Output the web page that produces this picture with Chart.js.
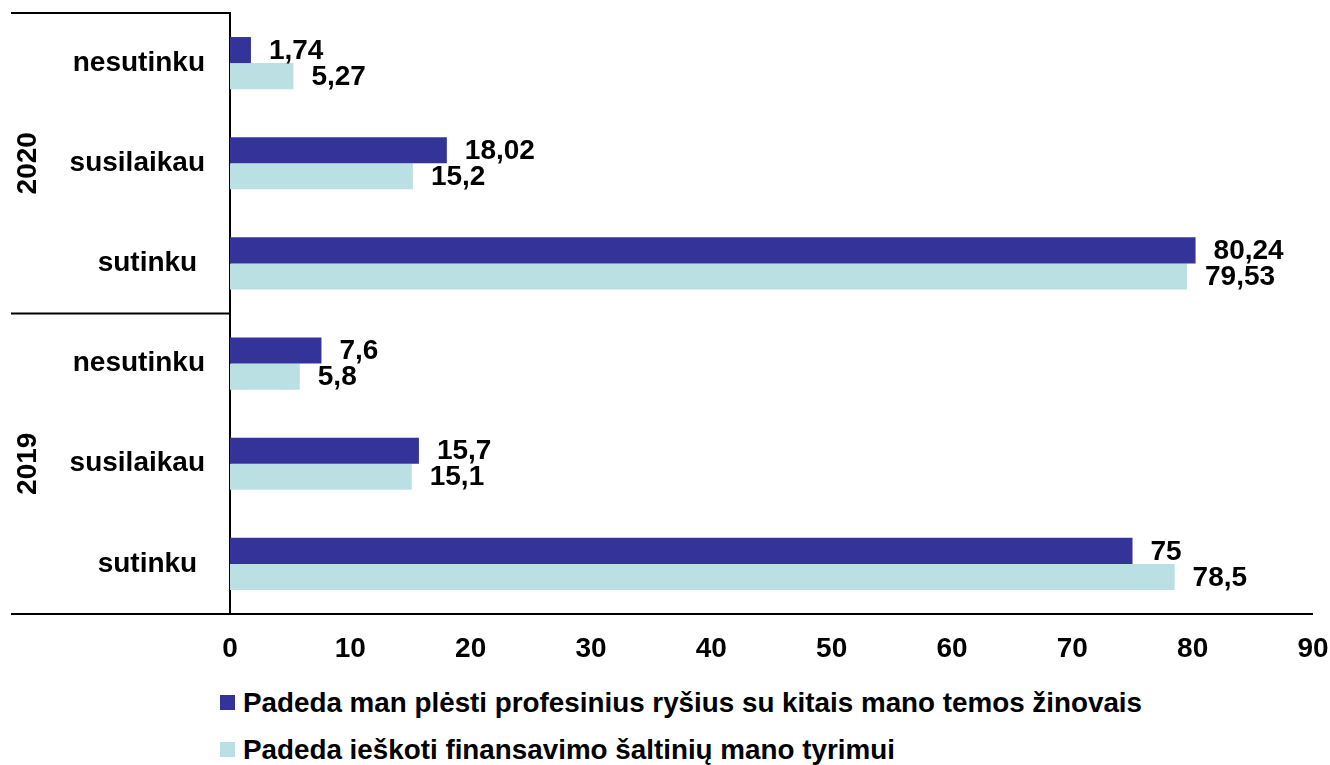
<!DOCTYPE html>
<html>
<head>
<meta charset="utf-8">
<script src="https://cdn.jsdelivr.net/npm/chart.js@4.4.1/dist/chart.umd.min.js"></script>
<style>
  body { margin:0; background:#fff; }
  #wrap { position:relative; width:1330px; height:765px; }
  canvas { position:absolute; left:0; top:0; }
  .leg { position:absolute; left:220px; font: bold 27.8px "Liberation Sans", Arial, sans-serif; color:#000; white-space:nowrap; line-height:32px; }
  .leg span.sw { display:inline-block; width:15px; height:15px; margin-right:8px; vertical-align:middle; position:relative; top:-2px; }
</style>
</head>
<body>
<div id="wrap">
<canvas id="c" width="1330" height="680"></canvas>
<div class="leg" id="leg1" style="top:687px;"></div>
<div class="leg" id="leg2" style="top:734px;"></div>
</div>
<script>
const categories = ['nesutinku', 'susilaikau', 'sutinku ', 'nesutinku', 'susilaikau', 'sutinku '];
const groups = ['2020', '2019'];
const seriesNames = ['Padeda man plėsti profesinius ryšius su kitais mano temos žinovais', 'Padeda ieškoti finansavimo šaltinių mano tyrimui'];
const seriesA = [1.74, 18.02, 80.24, 7.6, 15.7, 75];
const seriesB = [5.27, 15.2, 79.53, 5.8, 15.1, 78.5];
const xTicks = [0, 10, 20, 30, 40, 50, 60, 70, 80, 90];
const colors = ['#333399', '#BBE0E3'];
const FONT = '"Liberation Sans", Arial, sans-serif';
const FS = 28;

document.getElementById('leg1').innerHTML = '<span class="sw" style="background:' + colors[0] + '"></span>' + seriesNames[0];
document.getElementById('leg2').innerHTML = '<span class="sw" style="background:' + colors[1] + '"></span>' + seriesNames[1];

const fmt = v => String(v).replace('.', ',');

const decor = {
  id: 'decor',
  afterDatasetsDraw(chart) {
    const ctx = chart.ctx;
    const ca = chart.chartArea;
    const y = chart.scales.y;
    ctx.save();
    ctx.font = 'bold ' + FS + 'px ' + FONT;
    ctx.fillStyle = '#000';
    ctx.textAlign = 'left';
    ctx.textBaseline = 'middle';
    chart.data.datasets.forEach((ds, i) => {
      chart.getDatasetMeta(i).data.forEach((el, j) => {
        ctx.fillText(fmt(ds.data[j]), el.x + 18, el.y + 1);
      });
    });
    ctx.strokeStyle = '#000';
    ctx.lineWidth = 2;
    const sep = (y.getPixelForValue(2) + y.getPixelForValue(3)) / 2;
    ctx.beginPath();
    ctx.moveTo(11, ca.top); ctx.lineTo(ca.left, ca.top);
    ctx.moveTo(11, sep); ctx.lineTo(ca.left, sep);
    ctx.moveTo(11, ca.bottom); ctx.lineTo(ca.right, ca.bottom);
    ctx.stroke();
    ctx.textAlign = 'center';
    ctx.textBaseline = 'middle';
    groups.forEach((g, k) => {
      const cy = y.getPixelForValue(k * 3 + 1);
      ctx.save();
      ctx.translate(28, cy);
      ctx.rotate(-Math.PI / 2);
      ctx.fillText(g, 0, 0);
      ctx.restore();
    });
    ctx.restore();
  }
};

new Chart(document.getElementById('c'), {
  type: 'bar',
  data: {
    labels: categories,
    datasets: [
      { label: seriesNames[0], data: seriesA, backgroundColor: colors[0], categoryPercentage: 0.52, barPercentage: 1 },
      { label: seriesNames[1], data: seriesB, backgroundColor: colors[1], categoryPercentage: 0.52, barPercentage: 1 }
    ]
  },
  options: {
    indexAxis: 'y',
    responsive: false,
    animation: false,
    layout: { padding: { top: 13, right: 17, left: 0, bottom: 0 } },
    plugins: { legend: { display: false }, tooltip: { enabled: false } },
    scales: {
      x: {
        min: 0, max: 90,
        afterBuildTicks: s => { s.ticks = xTicks.map(v => ({ value: v })); },
        afterFit: s => { s.height = 66; s.paddingLeft = 0; s.paddingRight = 0; },
        grid: { display: false, drawTicks: false },
        border: { display: false },
        ticks: { color: '#000', font: { family: FONT, size: FS, weight: 'bold' }, padding: 18, maxRotation: 0 }
      },
      y: {
        afterFit: s => { s.width = 230; s.paddingTop = 0; s.paddingBottom = 0; },
        grid: { display: false, drawTicks: false },
        border: { display: true, color: '#000', width: 2 },
        ticks: { color: '#000', font: { family: FONT, size: FS, weight: 'bold' }, padding: 25 }
      }
    }
  },
  plugins: [decor]
});
</script>
</body>
</html>
